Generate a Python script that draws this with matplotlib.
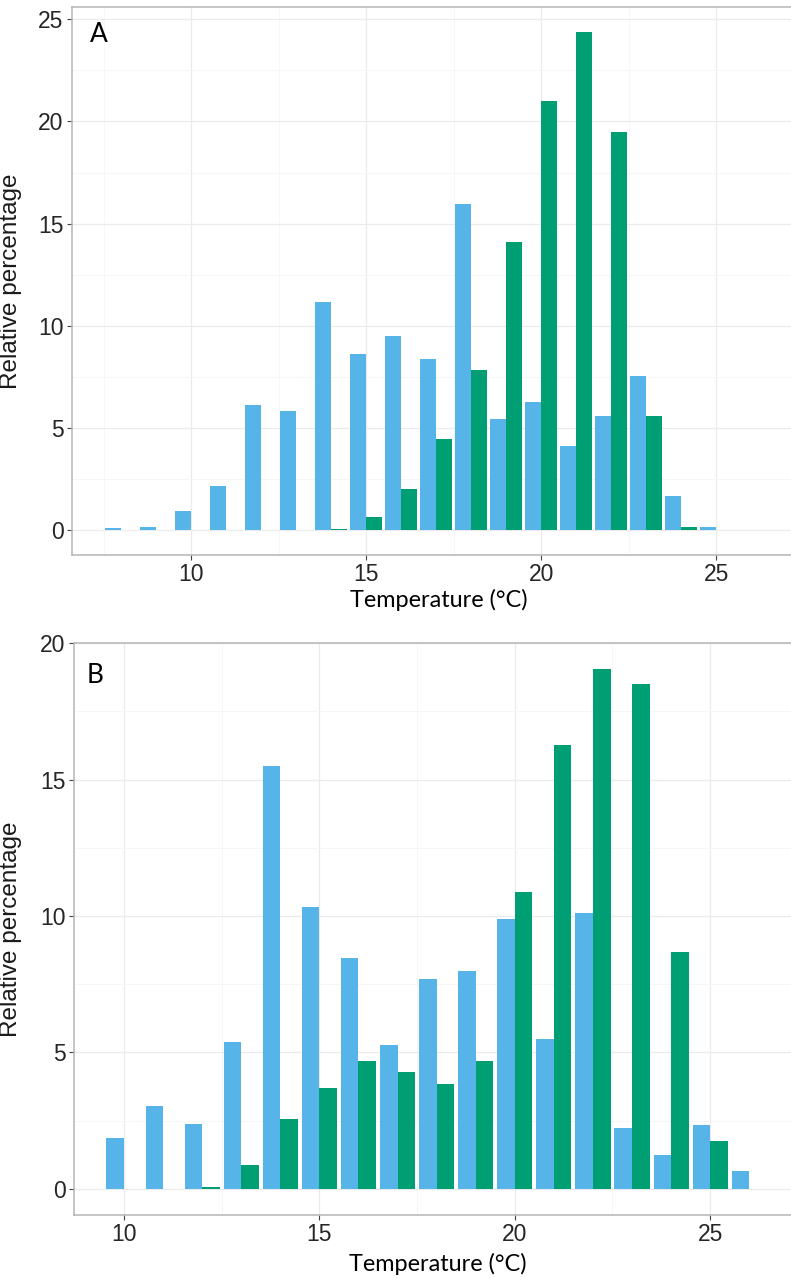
import numpy as np
import matplotlib
matplotlib.use("Agg")
import matplotlib.pyplot as plt
from matplotlib.ticker import MultipleLocator

# binned temperatures (degrees C) and relative percentages per group
temps_a = [8, 9, 10, 11, 12, 13, 14, 15, 16, 17, 18, 19, 20, 21, 22, 23, 24, 25]
a_sky = [0.08, 0.15, 0.95, 2.14, 6.11, 5.85, 11.14, 8.63, 9.48, 8.37, 15.97,
         5.46, 6.26, 4.13, 5.57, 7.55, 1.68, 0.13]
a_green = [0, 0, 0, 0, 0, 0, 0.05, 0.62, 1.99, 4.44, 7.81,
           14.12, 21.0, 24.38, 19.48, 5.57, 0.13, 0]

temps_b = [10, 11, 12, 13, 14, 15, 16, 17, 18, 19, 20, 21, 22, 23, 24, 25, 26]
b_sky = [1.85, 3.02, 2.38, 5.38, 15.49, 10.32, 8.48, 5.28, 7.70, 8.00,
         9.88, 5.49, 10.12, 2.24, 1.25, 2.33, 0.66]
b_green = [0, 0, 0.06, 0.89, 2.57, 3.70, 4.69, 4.30, 3.85, 4.69,
           10.9, 16.28, 19.05, 18.51, 8.69, 1.74, 0]

SKY = "#56B4E9"
GREEN = "#009E73"
BAR_W = 0.45

plt.rcParams["font.family"] = ["Liberation Sans", "DejaVu Sans"]
plt.rcParams["xtick.labelsize"] = 16.5
plt.rcParams["ytick.labelsize"] = 16.5
plt.rcParams["xtick.labelcolor"] = "#262626"
plt.rcParams["ytick.labelcolor"] = "#262626"

fig = plt.figure(figsize=(7.91, 12.78), dpi=100)
ax_a = fig.add_axes([72 / 791, 1 - 555 / 1278, 733 / 791, 548 / 1278])
ax_b = fig.add_axes([74 / 791, 1 - 1215 / 1278, 728 / 791, 571.7 / 1278])


def draw_panel(ax, temps, sky, green, xlim, ylim, tag, tag_xy, label_x, label_y):
    t = np.array(temps, dtype=float)
    ax.bar(t - BAR_W / 2, sky, width=BAR_W, color=SKY, zorder=3)
    ax.bar(t + BAR_W / 2, green, width=BAR_W, color=GREEN, zorder=3)
    ax.set_xlim(*xlim)
    ax.set_ylim(*ylim)

    ax.xaxis.set_major_locator(MultipleLocator(5))
    ax.xaxis.set_minor_locator(MultipleLocator(2.5))
    ax.yaxis.set_major_locator(MultipleLocator(5))
    ax.yaxis.set_minor_locator(MultipleLocator(2.5))
    ax.grid(which="major", color="#ebebeb", linewidth=0.9, zorder=0)
    ax.grid(which="minor", color="#f5f5f5", linewidth=0.6, zorder=0)
    ax.set_axisbelow(True)

    ax.tick_params(which="major", length=3.6, width=0.8, color="#444444",
                   pad=2.5)
    ax.tick_params(which="minor", length=0)

    for side in ax.spines.values():
        side.set_color("#b5b5b5")
        side.set_linewidth(1.1)
    ax.spines["right"].set_visible(False)

    ax.set_ylabel("Relative percentage", fontsize=17.5, color="#1a1a1a")
    ax.yaxis.set_label_coords(label_y, 0.5)
    ax.set_xlabel("Temperature (°C)", family="Lato", fontsize=16.9, color="black",
                  va="baseline")
    ax.xaxis.set_label_coords(0.5, label_x)

    ax.text(tag_xy[0], tag_xy[1], tag, family="Lato", fontsize=19,
            ha="left", va="baseline", color="black")


draw_panel(ax_a, temps_a, a_sky, a_green, (6.6, 27.54), (-1.22, 25.6),
           "A", (7.1, 23.87), -0.0949, -0.068)
draw_panel(ax_b, temps_b, b_sky, b_green, (8.72, 27.35), (-0.96, 20.0),
           "B", (9.05, 18.53), -0.0975, -0.0714)

fig.savefig("out.png", dpi=100)
